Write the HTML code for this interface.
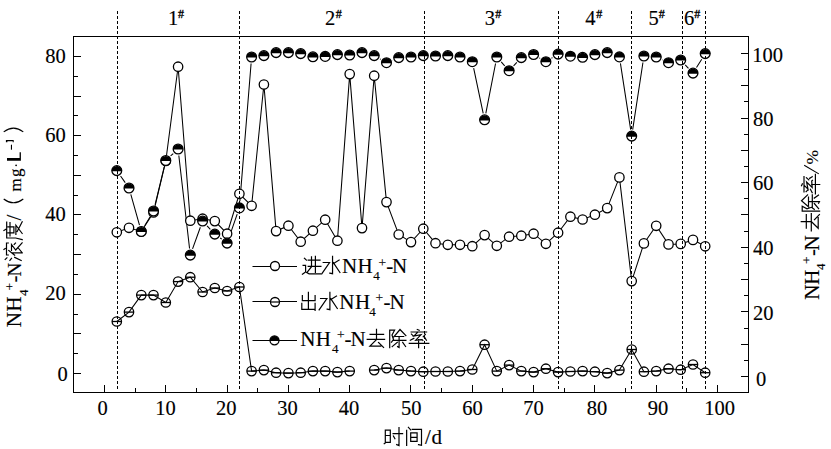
<!DOCTYPE html>
<html><head><meta charset="utf-8"><style>
html,body{margin:0;padding:0;background:#fff;}
body{width:831px;height:449px;overflow:hidden;position:relative;font-family:"Liberation Serif",serif;}
svg{position:absolute;left:0;top:0;display:block}
.blk{fill:#000;stroke:none}
</style></head><body>
<svg width="831" height="449" viewBox="0 0 831 449"><rect width="831" height="449" fill="#fff"/><g fill="none" stroke="#000" stroke-width="1.05"><polyline points="116.8,232.3 129.0,227.8 141.3,231.5 153.5,212.5 165.8,161.0 178.1,66.7 190.3,220.7 202.6,218.7 214.8,221.1 227.1,233.7 239.4,193.8 251.6,205.8 263.9,84.5 276.1,231.1 288.4,225.7 300.7,241.7 312.9,230.7 325.2,219.7 337.4,240.7 349.7,74.1 362.0,228.1 374.2,75.7 386.5,202.1 398.7,234.5 411.0,242.1 423.3,228.7 435.5,243.2 447.8,244.8 460.0,244.8 472.3,246.2 484.6,235.1 496.8,245.8 509.1,236.7 521.3,235.7 533.6,233.7 545.9,243.8 558.1,232.7 570.4,216.7 582.6,219.5 594.9,214.7 607.2,208.1 619.4,177.4 631.7,281.1 643.9,243.4 656.2,225.8 668.5,244.4 680.7,243.9 693.0,239.9 705.2,246.3"/><polyline points="116.8,321.5 129.0,312.1 141.3,295.1 153.5,295.1 165.8,302.5 178.1,281.6 190.3,277.2 202.6,292.0 214.8,288.0 227.1,291.0 239.4,287.0 251.6,371.1 263.9,370.1 276.1,372.7 288.4,373.1 300.7,372.7 312.9,371.1 325.2,371.1 337.4,372.1 349.7,371.1"/><polyline points="374.2,370.1 386.5,368.1 398.7,370.1 411.0,371.1 423.3,371.7 435.5,371.5 447.8,371.5 460.0,371.1 472.3,369.5 484.6,344.7 496.8,371.1 509.1,365.1 521.3,371.1 533.6,372.1 545.9,368.7 558.1,372.1 570.4,371.5 582.6,371.1 594.9,371.7 607.2,373.1 619.4,370.1 631.7,349.5 643.9,371.7 656.2,371.1 668.5,368.7 680.7,369.7 693.0,364.5 705.2,372.7"/><path d="M120.56,176.00 L125.22,182.60 M130.81,194.35 L139.49,225.15 M144.67,225.84 L150.15,216.66 M155.10,204.59 L164.24,166.91 M170.61,155.98 L173.25,153.52 M178.82,155.56 L189.56,248.54 M192.55,248.89 L200.35,227.21 M207.09,225.82 L210.33,229.28 M220.16,238.01 L221.78,239.19 M229.27,236.87 L237.19,214.13 M239.89,201.32 L251.09,63.58 M379.93,58.91 L380.77,59.39 M392.57,60.17 L392.65,60.13 M473.66,68.16 L483.20,113.34 M485.82,113.32 L495.56,63.48 M501.22,61.92 L504.68,65.78 M513.59,65.88 L516.83,62.42 M539.29,57.84 L540.17,58.36 M551.47,58.22 L552.51,57.58 M620.43,63.42 L630.67,129.58 M632.68,129.58 L642.94,62.52 M662.18,59.78 L662.48,59.92 M685.23,64.82 L688.47,68.28 M696.49,67.51 L701.73,59.19"/></g><g fill="#fff" stroke="#000" stroke-width="1.3"><circle cx="116.8" cy="232.3" r="4.7"/><circle cx="129.0" cy="227.8" r="4.7"/><circle cx="141.3" cy="231.5" r="4.7"/><circle cx="153.5" cy="212.5" r="4.7"/><circle cx="165.8" cy="161.0" r="4.7"/><circle cx="178.1" cy="66.7" r="4.7"/><circle cx="190.3" cy="220.7" r="4.7"/><circle cx="202.6" cy="218.7" r="4.7"/><circle cx="214.8" cy="221.1" r="4.7"/><circle cx="227.1" cy="233.7" r="4.7"/><circle cx="239.4" cy="193.8" r="4.7"/><circle cx="251.6" cy="205.8" r="4.7"/><circle cx="263.9" cy="84.5" r="4.7"/><circle cx="276.1" cy="231.1" r="4.7"/><circle cx="288.4" cy="225.7" r="4.7"/><circle cx="300.7" cy="241.7" r="4.7"/><circle cx="312.9" cy="230.7" r="4.7"/><circle cx="325.2" cy="219.7" r="4.7"/><circle cx="337.4" cy="240.7" r="4.7"/><circle cx="349.7" cy="74.1" r="4.7"/><circle cx="362.0" cy="228.1" r="4.7"/><circle cx="374.2" cy="75.7" r="4.7"/><circle cx="386.5" cy="202.1" r="4.7"/><circle cx="398.7" cy="234.5" r="4.7"/><circle cx="411.0" cy="242.1" r="4.7"/><circle cx="423.3" cy="228.7" r="4.7"/><circle cx="435.5" cy="243.2" r="4.7"/><circle cx="447.8" cy="244.8" r="4.7"/><circle cx="460.0" cy="244.8" r="4.7"/><circle cx="472.3" cy="246.2" r="4.7"/><circle cx="484.6" cy="235.1" r="4.7"/><circle cx="496.8" cy="245.8" r="4.7"/><circle cx="509.1" cy="236.7" r="4.7"/><circle cx="521.3" cy="235.7" r="4.7"/><circle cx="533.6" cy="233.7" r="4.7"/><circle cx="545.9" cy="243.8" r="4.7"/><circle cx="558.1" cy="232.7" r="4.7"/><circle cx="570.4" cy="216.7" r="4.7"/><circle cx="582.6" cy="219.5" r="4.7"/><circle cx="594.9" cy="214.7" r="4.7"/><circle cx="607.2" cy="208.1" r="4.7"/><circle cx="619.4" cy="177.4" r="4.7"/><circle cx="631.7" cy="281.1" r="4.7"/><circle cx="643.9" cy="243.4" r="4.7"/><circle cx="656.2" cy="225.8" r="4.7"/><circle cx="668.5" cy="244.4" r="4.7"/><circle cx="680.7" cy="243.9" r="4.7"/><circle cx="693.0" cy="239.9" r="4.7"/><circle cx="705.2" cy="246.3" r="4.7"/></g><g fill="none" stroke="#000" stroke-width="1.3"><g><circle cx="116.8" cy="321.5" r="4.7"/><line x1="112.1" y1="321.5" x2="121.5" y2="321.5"/></g><g><circle cx="129.0" cy="312.1" r="4.7"/><line x1="124.3" y1="312.1" x2="133.7" y2="312.1"/></g><g><circle cx="141.3" cy="295.1" r="4.7"/><line x1="136.6" y1="295.1" x2="146.0" y2="295.1"/></g><g><circle cx="153.5" cy="295.1" r="4.7"/><line x1="148.8" y1="295.1" x2="158.2" y2="295.1"/></g><g><circle cx="165.8" cy="302.5" r="4.7"/><line x1="161.1" y1="302.5" x2="170.5" y2="302.5"/></g><g><circle cx="178.1" cy="281.6" r="4.7"/><line x1="173.4" y1="281.6" x2="182.8" y2="281.6"/></g><g><circle cx="190.3" cy="277.2" r="4.7"/><line x1="185.6" y1="277.2" x2="195.0" y2="277.2"/></g><g><circle cx="202.6" cy="292.0" r="4.7"/><line x1="197.9" y1="292.0" x2="207.3" y2="292.0"/></g><g><circle cx="214.8" cy="288.0" r="4.7"/><line x1="210.1" y1="288.0" x2="219.5" y2="288.0"/></g><g><circle cx="227.1" cy="291.0" r="4.7"/><line x1="222.4" y1="291.0" x2="231.8" y2="291.0"/></g><g><circle cx="239.4" cy="287.0" r="4.7"/><line x1="234.7" y1="287.0" x2="244.1" y2="287.0"/></g><g><circle cx="251.6" cy="371.1" r="4.7"/><line x1="246.9" y1="371.1" x2="256.3" y2="371.1"/></g><g><circle cx="263.9" cy="370.1" r="4.7"/><line x1="259.2" y1="370.1" x2="268.6" y2="370.1"/></g><g><circle cx="276.1" cy="372.7" r="4.7"/><line x1="271.4" y1="372.7" x2="280.8" y2="372.7"/></g><g><circle cx="288.4" cy="373.1" r="4.7"/><line x1="283.7" y1="373.1" x2="293.1" y2="373.1"/></g><g><circle cx="300.7" cy="372.7" r="4.7"/><line x1="296.0" y1="372.7" x2="305.4" y2="372.7"/></g><g><circle cx="312.9" cy="371.1" r="4.7"/><line x1="308.2" y1="371.1" x2="317.6" y2="371.1"/></g><g><circle cx="325.2" cy="371.1" r="4.7"/><line x1="320.5" y1="371.1" x2="329.9" y2="371.1"/></g><g><circle cx="337.4" cy="372.1" r="4.7"/><line x1="332.7" y1="372.1" x2="342.1" y2="372.1"/></g><g><circle cx="349.7" cy="371.1" r="4.7"/><line x1="345.0" y1="371.1" x2="354.4" y2="371.1"/></g><g><circle cx="374.2" cy="370.1" r="4.7"/><line x1="369.5" y1="370.1" x2="378.9" y2="370.1"/></g><g><circle cx="386.5" cy="368.1" r="4.7"/><line x1="381.8" y1="368.1" x2="391.2" y2="368.1"/></g><g><circle cx="398.7" cy="370.1" r="4.7"/><line x1="394.0" y1="370.1" x2="403.4" y2="370.1"/></g><g><circle cx="411.0" cy="371.1" r="4.7"/><line x1="406.3" y1="371.1" x2="415.7" y2="371.1"/></g><g><circle cx="423.3" cy="371.7" r="4.7"/><line x1="418.6" y1="371.7" x2="428.0" y2="371.7"/></g><g><circle cx="435.5" cy="371.5" r="4.7"/><line x1="430.8" y1="371.5" x2="440.2" y2="371.5"/></g><g><circle cx="447.8" cy="371.5" r="4.7"/><line x1="443.1" y1="371.5" x2="452.5" y2="371.5"/></g><g><circle cx="460.0" cy="371.1" r="4.7"/><line x1="455.3" y1="371.1" x2="464.7" y2="371.1"/></g><g><circle cx="472.3" cy="369.5" r="4.7"/><line x1="467.6" y1="369.5" x2="477.0" y2="369.5"/></g><g><circle cx="484.6" cy="344.7" r="4.7"/><line x1="479.9" y1="344.7" x2="489.3" y2="344.7"/></g><g><circle cx="496.8" cy="371.1" r="4.7"/><line x1="492.1" y1="371.1" x2="501.5" y2="371.1"/></g><g><circle cx="509.1" cy="365.1" r="4.7"/><line x1="504.4" y1="365.1" x2="513.8" y2="365.1"/></g><g><circle cx="521.3" cy="371.1" r="4.7"/><line x1="516.6" y1="371.1" x2="526.0" y2="371.1"/></g><g><circle cx="533.6" cy="372.1" r="4.7"/><line x1="528.9" y1="372.1" x2="538.3" y2="372.1"/></g><g><circle cx="545.9" cy="368.7" r="4.7"/><line x1="541.2" y1="368.7" x2="550.6" y2="368.7"/></g><g><circle cx="558.1" cy="372.1" r="4.7"/><line x1="553.4" y1="372.1" x2="562.8" y2="372.1"/></g><g><circle cx="570.4" cy="371.5" r="4.7"/><line x1="565.7" y1="371.5" x2="575.1" y2="371.5"/></g><g><circle cx="582.6" cy="371.1" r="4.7"/><line x1="577.9" y1="371.1" x2="587.3" y2="371.1"/></g><g><circle cx="594.9" cy="371.7" r="4.7"/><line x1="590.2" y1="371.7" x2="599.6" y2="371.7"/></g><g><circle cx="607.2" cy="373.1" r="4.7"/><line x1="602.5" y1="373.1" x2="611.9" y2="373.1"/></g><g><circle cx="619.4" cy="370.1" r="4.7"/><line x1="614.7" y1="370.1" x2="624.1" y2="370.1"/></g><g><circle cx="631.7" cy="349.5" r="4.7"/><line x1="627.0" y1="349.5" x2="636.4" y2="349.5"/></g><g><circle cx="643.9" cy="371.7" r="4.7"/><line x1="639.2" y1="371.7" x2="648.6" y2="371.7"/></g><g><circle cx="656.2" cy="371.1" r="4.7"/><line x1="651.5" y1="371.1" x2="660.9" y2="371.1"/></g><g><circle cx="668.5" cy="368.7" r="4.7"/><line x1="663.8" y1="368.7" x2="673.2" y2="368.7"/></g><g><circle cx="680.7" cy="369.7" r="4.7"/><line x1="676.0" y1="369.7" x2="685.4" y2="369.7"/></g><g><circle cx="693.0" cy="364.5" r="4.7"/><line x1="688.3" y1="364.5" x2="697.7" y2="364.5"/></g><g><circle cx="705.2" cy="372.7" r="4.7"/><line x1="700.5" y1="372.7" x2="709.9" y2="372.7"/></g></g><g fill="#fff" stroke="#000" stroke-width="1.3"><circle cx="116.8" cy="170.6" r="4.9"/><path class="blk" d="M111.56,171.20 A5.2,5.2 0 0 1 121.96,171.20 Z"/><circle cx="129.0" cy="188.0" r="4.9"/><path class="blk" d="M123.82,188.60 A5.2,5.2 0 0 1 134.22,188.60 Z"/><circle cx="141.3" cy="231.5" r="4.9"/><path class="blk" d="M136.08,232.10 A5.2,5.2 0 0 1 146.48,232.10 Z"/><circle cx="153.5" cy="211.0" r="4.9"/><path class="blk" d="M148.34,211.60 A5.2,5.2 0 0 1 158.74,211.60 Z"/><circle cx="165.8" cy="160.5" r="4.9"/><path class="blk" d="M160.60,161.10 A5.2,5.2 0 0 1 171.00,161.10 Z"/><circle cx="178.1" cy="149.0" r="4.9"/><path class="blk" d="M172.86,149.60 A5.2,5.2 0 0 1 183.26,149.60 Z"/><circle cx="190.3" cy="255.1" r="4.9"/><path class="blk" d="M185.12,255.70 A5.2,5.2 0 0 1 195.52,255.70 Z"/><circle cx="202.6" cy="221.0" r="4.9"/><path class="blk" d="M197.38,221.60 A5.2,5.2 0 0 1 207.78,221.60 Z"/><circle cx="214.8" cy="234.1" r="4.9"/><path class="blk" d="M209.64,234.70 A5.2,5.2 0 0 1 220.04,234.70 Z"/><circle cx="227.1" cy="243.1" r="4.9"/><path class="blk" d="M221.90,243.70 A5.2,5.2 0 0 1 232.30,243.70 Z"/><circle cx="239.4" cy="207.9" r="4.9"/><path class="blk" d="M234.16,208.50 A5.2,5.2 0 0 1 244.56,208.50 Z"/><circle cx="251.6" cy="57.0" r="4.9"/><path class="blk" d="M246.42,57.60 A5.2,5.2 0 0 1 256.82,57.60 Z"/><circle cx="263.9" cy="55.6" r="4.9"/><path class="blk" d="M258.68,56.20 A5.2,5.2 0 0 1 269.08,56.20 Z"/><circle cx="276.1" cy="52.6" r="4.9"/><path class="blk" d="M270.94,53.20 A5.2,5.2 0 0 1 281.34,53.20 Z"/><circle cx="288.4" cy="52.6" r="4.9"/><path class="blk" d="M283.20,53.20 A5.2,5.2 0 0 1 293.60,53.20 Z"/><circle cx="300.7" cy="53.6" r="4.9"/><path class="blk" d="M295.46,54.20 A5.2,5.2 0 0 1 305.86,54.20 Z"/><circle cx="312.9" cy="56.8" r="4.9"/><path class="blk" d="M307.72,57.40 A5.2,5.2 0 0 1 318.12,57.40 Z"/><circle cx="325.2" cy="56.4" r="4.9"/><path class="blk" d="M319.98,57.00 A5.2,5.2 0 0 1 330.38,57.00 Z"/><circle cx="337.4" cy="54.6" r="4.9"/><path class="blk" d="M332.24,55.20 A5.2,5.2 0 0 1 342.64,55.20 Z"/><circle cx="349.7" cy="55.0" r="4.9"/><path class="blk" d="M344.50,55.60 A5.2,5.2 0 0 1 354.90,55.60 Z"/><circle cx="362.0" cy="52.6" r="4.9"/><path class="blk" d="M356.76,53.20 A5.2,5.2 0 0 1 367.16,53.20 Z"/><circle cx="374.2" cy="55.6" r="4.9"/><path class="blk" d="M369.02,56.20 A5.2,5.2 0 0 1 379.42,56.20 Z"/><circle cx="386.5" cy="62.7" r="4.9"/><path class="blk" d="M381.28,63.30 A5.2,5.2 0 0 1 391.68,63.30 Z"/><circle cx="398.7" cy="57.6" r="4.9"/><path class="blk" d="M393.54,58.20 A5.2,5.2 0 0 1 403.94,58.20 Z"/><circle cx="411.0" cy="57.0" r="4.9"/><path class="blk" d="M405.80,57.60 A5.2,5.2 0 0 1 416.20,57.60 Z"/><circle cx="423.3" cy="55.6" r="4.9"/><path class="blk" d="M418.06,56.20 A5.2,5.2 0 0 1 428.46,56.20 Z"/><circle cx="435.5" cy="56.0" r="4.9"/><path class="blk" d="M430.32,56.60 A5.2,5.2 0 0 1 440.72,56.60 Z"/><circle cx="447.8" cy="55.6" r="4.9"/><path class="blk" d="M442.58,56.20 A5.2,5.2 0 0 1 452.98,56.20 Z"/><circle cx="460.0" cy="57.0" r="4.9"/><path class="blk" d="M454.84,57.60 A5.2,5.2 0 0 1 465.24,57.60 Z"/><circle cx="472.3" cy="61.7" r="4.9"/><path class="blk" d="M467.10,62.30 A5.2,5.2 0 0 1 477.50,62.30 Z"/><circle cx="484.6" cy="119.8" r="4.9"/><path class="blk" d="M479.36,120.40 A5.2,5.2 0 0 1 489.76,120.40 Z"/><circle cx="496.8" cy="57.0" r="4.9"/><path class="blk" d="M491.62,57.60 A5.2,5.2 0 0 1 502.02,57.60 Z"/><circle cx="509.1" cy="70.7" r="4.9"/><path class="blk" d="M503.88,71.30 A5.2,5.2 0 0 1 514.28,71.30 Z"/><circle cx="521.3" cy="57.6" r="4.9"/><path class="blk" d="M516.14,58.20 A5.2,5.2 0 0 1 526.54,58.20 Z"/><circle cx="533.6" cy="54.5" r="4.9"/><path class="blk" d="M528.40,55.10 A5.2,5.2 0 0 1 538.80,55.10 Z"/><circle cx="545.9" cy="61.7" r="4.9"/><path class="blk" d="M540.66,62.30 A5.2,5.2 0 0 1 551.06,62.30 Z"/><circle cx="558.1" cy="54.1" r="4.9"/><path class="blk" d="M552.92,54.70 A5.2,5.2 0 0 1 563.32,54.70 Z"/><circle cx="570.4" cy="56.2" r="4.9"/><path class="blk" d="M565.18,56.80 A5.2,5.2 0 0 1 575.58,56.80 Z"/><circle cx="582.6" cy="57.3" r="4.9"/><path class="blk" d="M577.44,57.90 A5.2,5.2 0 0 1 587.84,57.90 Z"/><circle cx="594.9" cy="54.6" r="4.9"/><path class="blk" d="M589.70,55.20 A5.2,5.2 0 0 1 600.10,55.20 Z"/><circle cx="607.2" cy="52.6" r="4.9"/><path class="blk" d="M601.96,53.20 A5.2,5.2 0 0 1 612.36,53.20 Z"/><circle cx="619.4" cy="56.9" r="4.9"/><path class="blk" d="M614.22,57.50 A5.2,5.2 0 0 1 624.62,57.50 Z"/><circle cx="631.7" cy="136.1" r="4.9"/><path class="blk" d="M626.48,136.70 A5.2,5.2 0 0 1 636.88,136.70 Z"/><circle cx="643.9" cy="56.0" r="4.9"/><path class="blk" d="M638.74,56.60 A5.2,5.2 0 0 1 649.14,56.60 Z"/><circle cx="656.2" cy="57.0" r="4.9"/><path class="blk" d="M651.00,57.60 A5.2,5.2 0 0 1 661.40,57.60 Z"/><circle cx="668.5" cy="62.7" r="4.9"/><path class="blk" d="M663.26,63.30 A5.2,5.2 0 0 1 673.66,63.30 Z"/><circle cx="680.7" cy="60.0" r="4.9"/><path class="blk" d="M675.52,60.60 A5.2,5.2 0 0 1 685.92,60.60 Z"/><circle cx="693.0" cy="73.1" r="4.9"/><path class="blk" d="M687.78,73.70 A5.2,5.2 0 0 1 698.18,73.70 Z"/><circle cx="705.2" cy="53.6" r="4.9"/><path class="blk" d="M700.04,54.20 A5.2,5.2 0 0 1 710.44,54.20 Z"/></g><g stroke="#000" stroke-width="1" stroke-dasharray="3 2"><line x1="117.5" y1="11" x2="117.5" y2="390"/><line x1="239.5" y1="11" x2="239.5" y2="390"/><line x1="424.5" y1="11" x2="424.5" y2="390"/><line x1="558.5" y1="11" x2="558.5" y2="390"/><line x1="631.5" y1="11" x2="631.5" y2="390"/><line x1="682.5" y1="11" x2="682.5" y2="390"/><line x1="705.5" y1="11" x2="705.5" y2="390"/></g><g stroke="#000" stroke-width="1" fill="none" shape-rendering="crispEdges"><rect x="73.5" y="36.5" width="675" height="356"/><line x1="104.5" y1="392" x2="104.5" y2="385"/><line x1="135.5" y1="392" x2="135.5" y2="388"/><line x1="165.5" y1="392" x2="165.5" y2="385"/><line x1="196.5" y1="392" x2="196.5" y2="388"/><line x1="227.5" y1="392" x2="227.5" y2="385"/><line x1="257.5" y1="392" x2="257.5" y2="388"/><line x1="288.5" y1="392" x2="288.5" y2="385"/><line x1="319.5" y1="392" x2="319.5" y2="388"/><line x1="349.5" y1="392" x2="349.5" y2="385"/><line x1="380.5" y1="392" x2="380.5" y2="388"/><line x1="410.5" y1="392" x2="410.5" y2="385"/><line x1="441.5" y1="392" x2="441.5" y2="388"/><line x1="472.5" y1="392" x2="472.5" y2="385"/><line x1="502.5" y1="392" x2="502.5" y2="388"/><line x1="533.5" y1="392" x2="533.5" y2="385"/><line x1="564.5" y1="392" x2="564.5" y2="388"/><line x1="594.5" y1="392" x2="594.5" y2="385"/><line x1="625.5" y1="392" x2="625.5" y2="388"/><line x1="656.5" y1="392" x2="656.5" y2="385"/><line x1="686.5" y1="392" x2="686.5" y2="388"/><line x1="717.5" y1="392" x2="717.5" y2="385"/><line x1="74" y1="373.5" x2="81" y2="373.5"/><line x1="74" y1="353.5" x2="78" y2="353.5"/><line x1="74" y1="333.5" x2="81" y2="333.5"/><line x1="74" y1="314.5" x2="78" y2="314.5"/><line x1="74" y1="294.5" x2="81" y2="294.5"/><line x1="74" y1="274.5" x2="78" y2="274.5"/><line x1="74" y1="254.5" x2="81" y2="254.5"/><line x1="74" y1="234.5" x2="78" y2="234.5"/><line x1="74" y1="214.5" x2="81" y2="214.5"/><line x1="74" y1="195.5" x2="78" y2="195.5"/><line x1="74" y1="175.5" x2="81" y2="175.5"/><line x1="74" y1="155.5" x2="78" y2="155.5"/><line x1="74" y1="135.5" x2="81" y2="135.5"/><line x1="74" y1="115.5" x2="78" y2="115.5"/><line x1="74" y1="96.5" x2="81" y2="96.5"/><line x1="74" y1="76.5" x2="78" y2="76.5"/><line x1="74" y1="56.5" x2="81" y2="56.5"/><line x1="741" y1="376.5" x2="748" y2="376.5"/><line x1="744" y1="360.5" x2="748" y2="360.5"/><line x1="741" y1="344.5" x2="748" y2="344.5"/><line x1="744" y1="328.5" x2="748" y2="328.5"/><line x1="741" y1="311.5" x2="748" y2="311.5"/><line x1="744" y1="295.5" x2="748" y2="295.5"/><line x1="741" y1="279.5" x2="748" y2="279.5"/><line x1="744" y1="263.5" x2="748" y2="263.5"/><line x1="741" y1="247.5" x2="748" y2="247.5"/><line x1="744" y1="231.5" x2="748" y2="231.5"/><line x1="741" y1="214.5" x2="748" y2="214.5"/><line x1="744" y1="198.5" x2="748" y2="198.5"/><line x1="741" y1="182.5" x2="748" y2="182.5"/><line x1="744" y1="166.5" x2="748" y2="166.5"/><line x1="741" y1="150.5" x2="748" y2="150.5"/><line x1="744" y1="134.5" x2="748" y2="134.5"/><line x1="741" y1="118.5" x2="748" y2="118.5"/><line x1="744" y1="101.5" x2="748" y2="101.5"/><line x1="741" y1="85.5" x2="748" y2="85.5"/><line x1="744" y1="69.5" x2="748" y2="69.5"/><line x1="741" y1="53.5" x2="748" y2="53.5"/></g><g font-family="Liberation Serif" font-size="20.5" fill="#000" stroke="#000" stroke-width="0.15"><text x="102.5" y="414.5" text-anchor="middle">0</text><text x="165.4" y="414.5" text-anchor="middle">10</text><text x="226.2" y="414.5" text-anchor="middle">20</text><text x="287.6" y="414.5" text-anchor="middle">30</text><text x="349.1" y="414.5" text-anchor="middle">40</text><text x="411.2" y="414.5" text-anchor="middle">50</text><text x="472.4" y="414.5" text-anchor="middle">60</text><text x="533.6" y="414.5" text-anchor="middle">70</text><text x="597.1" y="414.5" text-anchor="middle">80</text><text x="658" y="414.5" text-anchor="middle">90</text><text x="719.5" y="414.5" text-anchor="middle">100</text><text x="67.8" y="380.5" text-anchor="end">0</text><text x="65.8" y="300.2" text-anchor="end">20</text><text x="65.8" y="221.0" text-anchor="end">40</text><text x="65.8" y="141.8" text-anchor="end">60</text><text x="65.8" y="62.5" text-anchor="end">80</text><text x="756" y="386.0">0</text><text x="753" y="319.6">20</text><text x="753" y="255.0">40</text><text x="753" y="190.4">60</text><text x="753" y="125.8">80</text><text x="752.3" y="62.0">100</text><text x="168.0" y="24.8">1</text><text x="178.0" y="17.8" font-size="12" stroke="#000" stroke-width="0.35">#</text><text x="325.0" y="24.8">2</text><text x="335.8" y="17.8" font-size="12" stroke="#000" stroke-width="0.35">#</text><text x="484.8" y="24.8">3</text><text x="495.2" y="17.8" font-size="12" stroke="#000" stroke-width="0.35">#</text><text x="585.3" y="24.8">4</text><text x="596.2" y="17.8" font-size="12" stroke="#000" stroke-width="0.35">#</text><text x="648.5" y="24.8">5</text><text x="658.8" y="17.8" font-size="12" stroke="#000" stroke-width="0.35">#</text><text x="684.0" y="24.8">6</text><text x="694.3" y="17.8" font-size="12" stroke="#000" stroke-width="0.35">#</text></g><g stroke="#000" stroke-width="1.2" fill="#fff"><line x1="252.5" y1="266.5" x2="297" y2="266.5" stroke-width="1.05"/><line x1="252.5" y1="301.5" x2="297" y2="301.5" stroke-width="1.05"/><line x1="252.5" y1="340.5" x2="297" y2="340.5" stroke-width="1.05"/><circle cx="275" cy="266" r="4.5" stroke-width="1.3"/><circle cx="275" cy="302" r="4.5" stroke-width="1.3"/><line x1="270.5" y1="302" x2="279.5" y2="302"/><circle stroke-width="1.3" cx="274.5" cy="340.3" r="4.5"/><path class="blk" d="M269.70,340.90 A4.8,4.8 0 0 1 279.30,340.90 Z"/></g><path d="M304.40,258.30 L306.40,260.10 M303.10,265.30 L305.60,265.30 L305.60,271.90 L302.40,274.20 M306.70,272.60 L309.10,273.90 L320.60,273.90 M308.20,260.20 L320.00,260.20 M308.20,266.30 L320.90,266.30 M311.50,256.90 L311.50,266.70 L306.90,272.60 M315.40,256.30 L315.40,272.30" fill="none" stroke="#000" stroke-width="1.2" stroke-linecap="square" stroke-linejoin="miter"/><path d="M323.20,262.50 L329.55,262.50 L321.75,273.90 M332.55,256.30 L332.55,273.70 L329.75,273.10 M339.15,260.00 L333.55,263.50 M333.35,262.60 L339.95,272.50" fill="none" stroke="#000" stroke-width="1.2" stroke-linecap="square" stroke-linejoin="miter"/><text font-family="Liberation Serif" font-size="21" x="341.90 357.50" y="272.8" stroke="#000" stroke-width="0.15">NH</text><text font-family="Liberation Serif" font-size="13" x="373.20" y="279.7" stroke="#000" stroke-width="0.15">4</text><text font-family="Liberation Serif" font-size="13.5" x="378.60" y="267.0" stroke="#000" stroke-width="0.15">+</text><text font-family="Liberation Serif" font-size="21" x="386.20 392.00" y="272.8" stroke="#000" stroke-width="0.15">-N</text><path d="M308.40,292.30 L308.40,309.20 M302.35,295.50 L302.35,300.60 L315.10,300.60 L315.10,295.50 M301.80,303.30 L301.80,309.40 L315.10,309.40 M315.10,303.30 L315.10,310.30" fill="none" stroke="#000" stroke-width="1.2" stroke-linecap="square" stroke-linejoin="miter"/><path d="M320.55,298.50 L326.90,298.50 L319.10,309.90 M329.90,292.30 L329.90,309.70 L327.10,309.10 M336.50,296.00 L330.90,299.50 M330.70,298.60 L337.30,308.50" fill="none" stroke="#000" stroke-width="1.2" stroke-linecap="square" stroke-linejoin="miter"/><text font-family="Liberation Serif" font-size="21" x="339.30 355.00" y="309.0" stroke="#000" stroke-width="0.15">NH</text><text font-family="Liberation Serif" font-size="13" x="369.30" y="316.0" stroke="#000" stroke-width="0.15">4</text><text font-family="Liberation Serif" font-size="13.5" x="375.60" y="302.3" stroke="#000" stroke-width="0.15">+</text><text font-family="Liberation Serif" font-size="21" x="383.60 389.50" y="309.0" stroke="#000" stroke-width="0.15">-N</text><text font-family="Liberation Serif" font-size="21" x="300.20 315.80" y="346.0" stroke="#000" stroke-width="0.15">NH</text><text font-family="Liberation Serif" font-size="13" x="331.90" y="352.8" stroke="#000" stroke-width="0.15">4</text><text font-family="Liberation Serif" font-size="13.5" x="337.00" y="339.3" stroke="#000" stroke-width="0.15">+</text><text font-family="Liberation Serif" font-size="21" x="344.50 350.40" y="346.0" stroke="#000" stroke-width="0.15">-N</text><path d="M370.10,334.30 L383.60,334.30 M376.50,329.25 L376.50,339.30 M367.20,339.30 L384.60,339.30 M376.50,339.50 L369.90,346.20 L380.70,346.20 M378.50,342.50 L383.60,347.40" fill="none" stroke="#000" stroke-width="1.2" stroke-linecap="square" stroke-linejoin="miter"/><path d="M389.70,347.60 L389.70,330.20 L394.60,330.20 L392.00,335.00 L393.50,339.50 L391.50,342.20 M393.80,336.80 L400.00,329.50 L405.90,335.60 M395.50,336.50 L403.70,336.50 M393.30,340.30 L405.90,340.30 M399.10,336.50 L399.10,347.40 L397.60,346.60 M397.30,342.30 L392.20,346.60 M402.70,342.30 L405.60,346.50" fill="none" stroke="#000" stroke-width="1.2" stroke-linecap="square" stroke-linejoin="miter"/><path d="M417.30,329.50 L419.20,330.30 M411.10,332.00 L426.60,332.00 M417.80,332.20 L414.00,336.00 L421.00,334.60 L415.70,340.20 L422.10,339.70 L422.80,340.40 M411.40,334.10 L413.00,335.70 M410.30,340.20 L413.80,338.40 M425.30,334.40 L423.20,336.80 M424.80,337.60 L426.40,340.20 M409.30,343.40 L428.80,343.40 M418.60,339.70 L418.60,347.70" fill="none" stroke="#000" stroke-width="1.2" stroke-linecap="square" stroke-linejoin="miter"/><path d="M385.30,430.20 L385.30,443.00 L384.20,443.70 M385.30,430.20 L390.30,430.20 L390.30,442.40 M385.30,435.50 L390.30,435.50 M385.30,442.40 L390.30,442.40 M393.10,433.70 L402.60,433.70 M399.00,427.70 L399.00,445.50 L396.70,444.60 M393.40,436.10 L394.90,438.80" fill="none" stroke="#000" stroke-width="1.2" stroke-linecap="square" stroke-linejoin="miter"/><path d="M408.40,427.40 L410.70,429.90 M406.65,430.40 L406.65,445.50 M412.30,429.40 L421.50,429.40 L421.50,445.30 L418.50,444.70 M410.70,432.90 L410.70,441.30 M410.70,432.90 L417.10,432.90 L417.10,441.30 M410.70,437.40 L417.10,437.40 M410.70,441.30 L417.10,441.30" fill="none" stroke="#000" stroke-width="1.2" stroke-linecap="square" stroke-linejoin="miter"/><text font-family="Liberation Serif" font-size="21" x="425.00 431.60" y="443.6" stroke="#000" stroke-width="0.15">/d</text><g transform="translate(21.2,327) rotate(-90)"><text font-family="Liberation Serif" font-size="21" x="-0.30 15.50" y="0" stroke="#000" stroke-width="0.15">NH</text><text font-family="Liberation Serif" font-size="13" x="31.00" y="6.5" stroke="#000" stroke-width="0.15">4</text><text font-family="Liberation Serif" font-size="13.5" x="36.50" y="-7.5" stroke="#000" stroke-width="0.15">+</text><text font-family="Liberation Serif" font-size="21" x="44.50" y="0" stroke="#000" stroke-width="0.15">-</text><text font-family="Liberation Serif" font-size="19" x="50.60" y="0" stroke="#000" stroke-width="0.15">N</text><path d="M67.50,-16.00 L69.20,-14.30 M66.60,-11.30 L68.60,-9.70 M66.50,0.00 L69.60,-6.50 M77.50,-17.30 L78.50,-15.90 M72.00,-12.90 L72.00,-14.70 L84.00,-14.70 L84.00,-12.90 M76.50,-12.50 L71.80,-6.50 M74.20,-9.30 L74.20,1.00 M76.50,-9.70 L82.50,-9.70 L77.00,-5.50 L84.20,0.90 M74.50,0.70 L78.50,-2.50 M82.50,-7.00 L84.00,-5.70" fill="none" stroke="#000" stroke-width="1.2" stroke-linecap="square" stroke-linejoin="miter"/><path d="M96.50,-17.30 L97.60,-15.70 M89.00,-14.50 L105.00,-14.50 M89.00,-14.50 L89.00,-5.50 L87.30,1.00 M91.20,-11.20 L104.30,-11.20 M94.20,-13.20 L94.20,-7.30 L100.20,-7.30 M100.20,-13.20 L100.20,-7.30 M92.50,-5.30 L101.80,-5.30 L93.50,1.00 M95.50,-4.00 L105.20,1.00" fill="none" stroke="#000" stroke-width="1.2" stroke-linecap="square" stroke-linejoin="miter"/><text font-family="Liberation Serif" font-size="21" x="106.50" y="0" stroke="#000" stroke-width="0.15">/</text><path d="M128,-17.5 Q120.5,-7.7 128,2.1" fill="none" stroke="#000" stroke-width="1.1"/><text font-family="Liberation Serif" font-size="17" x="135.60 150.00" y="0" stroke="#000" stroke-width="0.15">mg</text><circle cx="161.7" cy="-5.1" r="0.9" fill="#000"/><path d="M166.3,-14.2 h2.8 v13.9 h-2.8 z M166.3,-1.6 h8.5 v1.3 h-8.5 z" fill="#000"/><path d="M177.3,-9.75 h5" stroke="#000" stroke-width="1.1"/><path d="M186.3,-15.3 v7.8 M185.4,-15.3 v1.5 M185.4,-7.5 v-1.0" stroke="#000" stroke-width="1.2"/><path d="M195.1,-17.5 Q202.6,-7.7 195.1,2.1" fill="none" stroke="#000" stroke-width="1.1"/></g><g transform="translate(818.5,299.5) rotate(-90)"><text font-family="Liberation Serif" font-size="21" x="-0.30 14.70" y="0" stroke="#000" stroke-width="0.15">NH</text><text font-family="Liberation Serif" font-size="13" x="29.50" y="6.5" stroke="#000" stroke-width="0.15">4</text><text font-family="Liberation Serif" font-size="13.5" x="35.50" y="-7.5" stroke="#000" stroke-width="0.15">+</text><text font-family="Liberation Serif" font-size="21" x="43.50 49.00" y="0" stroke="#000" stroke-width="0.15">-N</text><path d="M71.40,-12.20 L84.90,-12.20 M77.80,-17.25 L77.80,-7.20 M68.50,-7.20 L85.90,-7.20 M77.80,-7.00 L71.20,-0.30 L82.00,-0.30 M79.80,-4.00 L84.90,0.90" fill="none" stroke="#000" stroke-width="1.2" stroke-linecap="square" stroke-linejoin="miter"/><path d="M88.40,1.10 L88.40,-16.30 L93.30,-16.30 L90.70,-11.50 L92.20,-7.00 L90.20,-4.30 M92.50,-9.70 L98.70,-17.00 L104.60,-10.90 M94.20,-10.00 L102.40,-10.00 M92.00,-6.20 L104.60,-6.20 M97.80,-10.00 L97.80,0.90 L96.30,0.10 M96.00,-4.20 L90.90,0.10 M101.40,-4.20 L104.30,0.00" fill="none" stroke="#000" stroke-width="1.2" stroke-linecap="square" stroke-linejoin="miter"/><path d="M113.70,-17.00 L115.60,-16.20 M107.50,-14.50 L123.00,-14.50 M114.20,-14.30 L110.40,-10.50 L117.40,-11.90 L112.10,-6.30 L118.50,-6.80 L119.20,-6.10 M107.80,-12.40 L109.40,-10.80 M106.70,-6.30 L110.20,-8.10 M121.70,-12.10 L119.60,-9.70 M121.20,-8.90 L122.80,-6.30 M105.70,-3.10 L125.20,-3.10 M115.00,-6.80 L115.00,1.20" fill="none" stroke="#000" stroke-width="1.2" stroke-linecap="square" stroke-linejoin="miter"/><path d="M125.6,0.3 L134.3,-14.3" stroke="#000" stroke-width="1.1"/><text font-family="Liberation Serif" font-size="17.5" x="135.00" y="-0.3" stroke="#000" stroke-width="0.15">%</text></g></svg>
</body></html>
